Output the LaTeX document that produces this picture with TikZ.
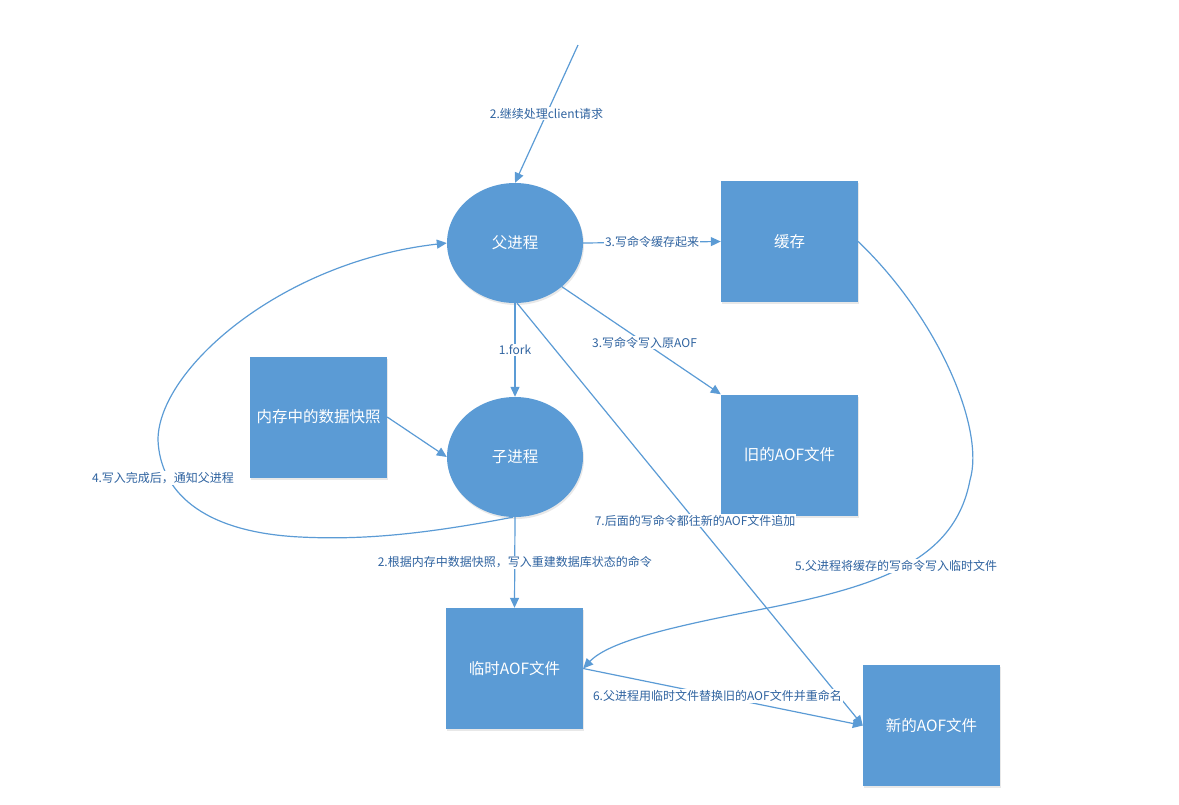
\documentclass[tikz,border=0pt]{standalone}
\usepackage{fontspec}
\setmainfont{Noto Sans CJK SC}
\usetikzlibrary{arrows.meta,shapes.geometric,shadows}
\definecolor{boxblue}{HTML}{5B9BD5}
\definecolor{lineblue}{HTML}{5B9BD5}
\definecolor{labelblue}{HTML}{2F63A0}
\tikzset{
  procnode/.style={ellipse, fill=boxblue, draw=none, minimum width=136pt, minimum height=120pt, inner sep=0pt, text=white, font=\fontsize{15.5}{18}\selectfont, drop shadow={opacity=0.18, shadow xshift=1pt, shadow yshift=-2pt}},
  filebox/.style={rectangle, fill=boxblue, draw=none, minimum width=137pt, minimum height=121pt, inner sep=0pt, text=white, font=\fontsize{15.5}{18}\selectfont, drop shadow={opacity=0.18, shadow xshift=1pt, shadow yshift=-2pt}},
  conn/.style={draw=lineblue, line width=1.2pt, -{Triangle[length=10pt,width=9pt]}},
  lbl/.style={fill=white, text=labelblue, inner sep=1pt, font=\fontsize{12}{14}\selectfont}
}
\begin{document}
\begin{tikzpicture}[x=1pt,y=-1pt]
\useasboundingbox (0,0) rectangle (1179,804);
\node[procnode] (parent) at (515,243) {父进程};
\node[procnode] (child) at (515,457) {子进程};
\node[filebox] (cache) at (789.5,241.5) {缓存};
\node[filebox] (old) at (789.5,455) {旧的AOF文件};
\node[filebox] (snap) at (318.5,417) {内存中的数据快照};
\node[filebox] (tmp) at (514.5,668.5) {临时AOF文件};
\node[filebox] (new) at (931.5,725.5) {新的AOF文件};
\coordinate (top) at (578,45);

\draw[conn] (top) -- node[lbl, pos=0.5] {2.继续处理client请求} (parent.north);
\draw[conn] (parent.east) -- node[lbl] {3.写命令缓存起来} (cache.west);
\draw[conn] (parent.-43) -- node[lbl, pos=0.52] {3.写命令写入原AOF} (old.north west);
\draw[conn] (parent.south) -- node[lbl] {1.fork} (child.north);
\draw[conn] (snap.east) -- (child.180);
\draw[conn] (child.south) -- node[lbl] {2.根据内存中数据快照，写入重建数据库状态的命令} (tmp.north);
\draw[conn] (parent.-88) -- node[lbl, pos=0.515] {7.后面的写命令都往新的AOF文件追加} (new.west);
\draw[conn] (tmp.east) -- node[lbl, pos=0.48] {6.父进程用临时文件替换旧的AOF文件并重命名} (new.west);
\draw[conn] (child.-92) .. controls (420,535) and (360,540) .. (300,537)
  .. controls (200,532) and (160,490) .. (158,440)
  .. controls (158,370) and (280,262) .. (parent.west);
\node[lbl] (l4) at (163,478) {4.写入完成后，通知父进程};
\draw[conn] (cache.east) .. controls (940,320) and (985,430) .. (970,480)
  .. controls (955,560) and (880,585) .. (773,607)
  .. controls (680,625) and (610,640) .. (tmp.east);
\node[lbl] (l5) at (896,566) {5.父进程将缓存的写命令写入临时文件};
\end{tikzpicture}
\end{document}
